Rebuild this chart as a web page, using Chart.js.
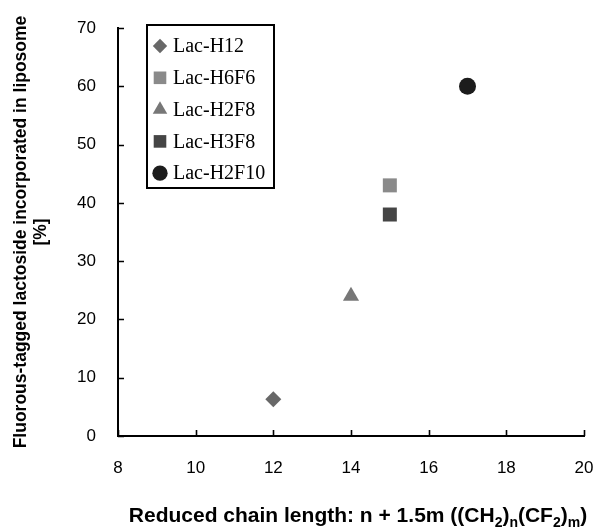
<!DOCTYPE html>
<html><head><meta charset="utf-8">
<script src="https://cdn.jsdelivr.net/npm/chart.js@4/dist/chart.umd.min.js"></script>
<style>html,body{margin:0;padding:0;background:#fff}</style>
</head><body>
<canvas id="c" width="595" height="529"></canvas>
<script>
// ---- data ----
const seriesNames = ['Lac-H12', 'Lac-H6F6', 'Lac-H2F8', 'Lac-H3F8', 'Lac-H2F10'];
const chainLength = [12, 15, 14, 15, 17];
const incorporation = [6.3, 43, 24, 38, 60];
const xTickValues = [8, 10, 12, 14, 16, 18, 20];
const yTickValues = [0, 10, 20, 30, 40, 50, 60, 70];
const yTitleLines = ['Fluorous-tagged lactoside incorporated in liposome', '[%]'];
const xTitleParts = [['Reduced chain length: n + 1.5m ((CH', 0], ['2', 1], [')', 0], ['n', 1], ['(CF', 0], ['2', 1], [')', 0], ['m', 1], [')', 0]];

// ---- styles ----
const markerShapes = ['rectRot', 'rect', 'triangle', 'rect', 'circle'];
const markerColors = ['#686868', '#8a8a8a', '#777777', '#454545', '#1c1c1c'];
const markerRadius = [8, 9.9, 9.3, 9.9, 8.5];

const datasets = seriesNames.map((name, i) => ({
  label: name,
  data: [{x: chainLength[i], y: incorporation[i]}],
  pointStyle: markerShapes[i],
  backgroundColor: markerColors[i],
  borderColor: markerColors[i],
  borderWidth: 0,
  pointRadius: markerRadius[i],
  pointHoverRadius: markerRadius[i]
}));

const PLOT = {left: 118, right: 584, top: 28, bottom: 436};

const innerTicks = {
  id: 'innerTicks',
  afterDraw(chart) {
    const {ctx, chartArea: a, scales: {x, y}} = chart;
    ctx.save();
    ctx.strokeStyle = '#000';
    ctx.lineWidth = 1.6;
    ctx.beginPath();
    yTickValues.forEach(v => {
      const p = Math.round(y.getPixelForValue(v)) + 0.5;
      ctx.moveTo(a.left, p); ctx.lineTo(a.left + 6, p);
    });
    xTickValues.forEach(v => {
      const p = Math.round(x.getPixelForValue(v)) + 0.5;
      ctx.moveTo(p, a.bottom); ctx.lineTo(p, a.bottom - 6);
    });
    ctx.stroke();
    ctx.restore();
  }
};

const boxLegend = {
  id: 'boxLegend',
  afterDraw(chart) {
    const ctx = chart.ctx;
    const bx = 147, by = 25, bw = 127, bh = 163;
    ctx.save();
    ctx.fillStyle = '#fff';
    ctx.fillRect(bx, by, bw, bh);
    ctx.strokeStyle = '#000';
    ctx.lineWidth = 2;
    ctx.strokeRect(bx, by, bw, bh);
    ctx.font = '20px "Liberation Serif", "Times New Roman", serif';
    ctx.textBaseline = 'middle';
    ctx.textAlign = 'left';
    chart.data.datasets.forEach((ds, i) => {
      const cy = by + 21 + i * 31.8;
      ctx.fillStyle = ds.backgroundColor;
      ctx.strokeStyle = ds.borderColor;
      Chart.helpers.drawPoint(ctx, {pointStyle: ds.pointStyle, radius: ds.pointRadius * 0.9, borderWidth: 0}, bx + 13, cy);
      ctx.fillStyle = '#000';
      ctx.fillText(ds.label, bx + 26, cy + 1);
    });
    ctx.restore();
  }
};

const xTitle = {
  id: 'xTitle',
  afterDraw(chart) {
    const ctx = chart.ctx;
    const big = 'bold 21px "Liberation Sans", Arial, sans-serif';
    const small = 'bold 14px "Liberation Sans", Arial, sans-serif';
    ctx.save();
    ctx.fillStyle = '#000';
    ctx.textBaseline = 'alphabetic';
    ctx.textAlign = 'left';
    let total = 0;
    xTitleParts.forEach(([t, sub]) => { ctx.font = sub ? small : big; total += ctx.measureText(t).width; });
    let xpos = 358 - total / 2;
    const base = 522;
    xTitleParts.forEach(([t, sub]) => {
      ctx.font = sub ? small : big;
      ctx.fillText(t, xpos, sub ? base + 5 : base);
      xpos += ctx.measureText(t).width;
    });
    ctx.restore();
  }
};

new Chart(document.getElementById('c'), {
  type: 'scatter',
  data: {datasets},
  options: {
    responsive: false,
    devicePixelRatio: 1,
    animation: false,
    events: [],
    layout: {padding: {left: 0, top: PLOT.top, right: 595 - PLOT.right, bottom: 0}},
    plugins: {legend: {display: false}, tooltip: {enabled: false}},
    scales: {
      x: {
        type: 'linear', min: 8, max: 20,
        afterBuildTicks(s) { s.ticks = xTickValues.map(v => ({value: v})); },
        afterFit(s) { s.height = 529 - PLOT.bottom; s.paddingLeft = 0; s.paddingRight = 0; },
        grid: {display: true, drawOnChartArea: false, drawTicks: false},
        border: {display: true, color: '#000', width: 2},
        ticks: {color: '#000', padding: 22, maxRotation: 0, font: {family: '"Liberation Sans", Arial, sans-serif', size: 17}}
      },
      y: {
        type: 'linear', min: 0, max: 70,
        afterBuildTicks(s) { s.ticks = yTickValues.map(v => ({value: v})); },
        afterFit(s) { s.width = PLOT.left; s.paddingTop = 0; s.paddingBottom = 0; },
        grid: {display: true, drawOnChartArea: false, drawTicks: false},
        border: {display: true, color: '#000', width: 2},
        ticks: {color: '#000', padding: 22, font: {family: '"Liberation Sans", Arial, sans-serif', size: 17}},
        title: {display: true, text: yTitleLines, color: '#000', padding: {top: 11.5, bottom: 0},
          font: {family: '"Liberation Sans", Arial, sans-serif', size: 17.5, weight: 'bold', lineHeight: 1.12}}
      }
    }
  },
  plugins: [innerTicks, boxLegend, xTitle]
});
</script>
</body></html>
